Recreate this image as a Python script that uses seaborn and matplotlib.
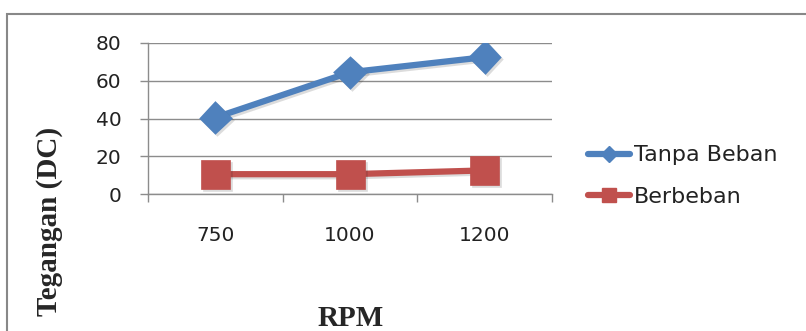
import matplotlib
matplotlib.use("Agg")
import matplotlib.pyplot as plt
import matplotlib.patheffects as pe
from matplotlib.lines import Line2D
from matplotlib.patches import Rectangle
import seaborn as sns

# data
rpm = ["750", "1000", "1200"]
tanpa_beban = [40.5, 64.5, 72.5]
berbeban = [10.5, 10.5, 12.5]
y_ticks = [0, 20, 40, 60, 80]

blue = "#4F81BD"
red = "#C0504D"
grid_col = "#8C8C8C"

sns.set_theme(style="white")
plt.rcParams["font.family"] = ["DejaVu Sans"]

fig = plt.figure(figsize=(8.06, 3.31), dpi=100)
ax = fig.add_axes([148 / 806, 1 - 194 / 331, (552 - 148) / 806, (194 - 43) / 331])

shadow = [pe.SimpleLineShadow(offset=(1.5, -1.5), alpha=0.15), pe.Normal()]

sns.pointplot(x=rpm, y=tanpa_beban, color=blue, markers="D", errorbar=None,
              markersize=14, linewidth=4.5, ax=ax)
sns.pointplot(x=rpm, y=berbeban, color=red, markers="s", errorbar=None,
              markersize=18, linewidth=4.5, ax=ax)
for ln in ax.lines:
    ln.set_path_effects(shadow)

ax.set_xlim(-0.5, len(rpm) - 0.5)
ax.set_ylim(0, 80)
ax.set_yticks(y_ticks)
ax.set_yticklabels([str(v) for v in y_ticks])

# category boundaries get the tick marks, centres get the labels
ax.set_xticks([i - 0.5 for i in range(len(rpm) + 1)])
ax.set_xticklabels([])
ax.set_xticks(range(len(rpm)), minor=True)
ax.set_xticklabels(rpm, minor=True)
ax.tick_params(axis="x", which="major", length=6, width=1, color=grid_col,
               direction="out", bottom=True)
ax.tick_params(axis="x", which="minor", length=0, pad=23, labelsize=14.5,
               labelcolor="#222222")
ax.tick_params(axis="y", length=6, width=1, color=grid_col, direction="out",
               left=True, pad=13, labelsize=14.5, labelcolor="#222222")

ax.grid(axis="y", color=grid_col, linewidth=1)
ax.set_axisbelow(True)
for side in ["top", "right"]:
    ax.spines[side].set_visible(False)
for side in ["left", "bottom"]:
    ax.spines[side].set_color(grid_col)
    ax.spines[side].set_linewidth(1)
ax.set_xlabel("")
ax.set_ylabel("")

fig.text(50 / 806, 1 - 221 / 331, "Tegangan (DC)", rotation=90,
         ha="center", va="center", fontsize=21, fontweight="bold",
         family="Liberation Serif")
fig.text(351 / 806, 1 - 318 / 331, "RPM", ha="center", va="center",
         fontsize=21, fontweight="bold", family="Liberation Serif")

handles = [
    Line2D([], [], color=blue, marker="D", markersize=8, linewidth=4.5),
    Line2D([], [], color=red, marker="s", markersize=10, linewidth=4.5),
]
fig.legend(handles, ["Tanpa Beban", "Berbeban"], loc="center left",
           bbox_to_anchor=(568 / 806, 1 - 176 / 331), frameon=False,
           fontsize=16, handlelength=1.9, handletextpad=0.15,
           labelspacing=0.95, labelcolor="#222222")

# outer chart frame
fig.patches.append(Rectangle((7 / 806, -0.1), 1.2, 1 - 14 / 331 + 0.1,
                             transform=fig.transFigure, fill=False,
                             edgecolor="#888888", linewidth=1.5))

fig.savefig("out.png", dpi=100)
